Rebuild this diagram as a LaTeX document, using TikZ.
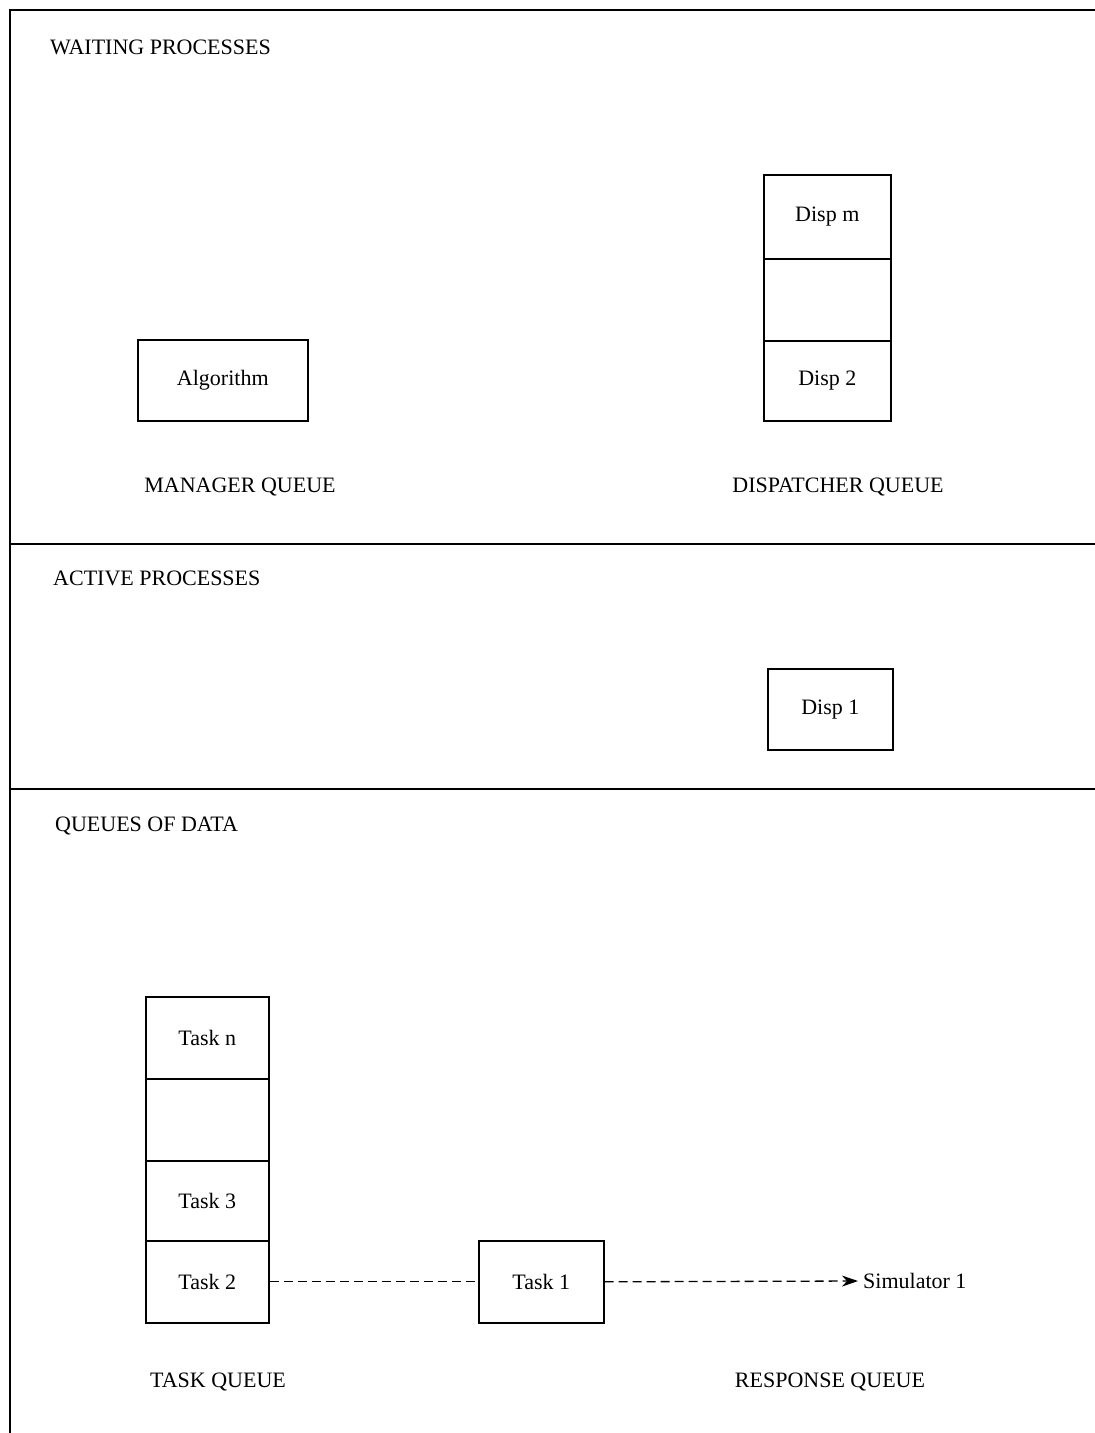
\documentclass[tikz,border=0pt]{standalone}
\usepackage{fontspec}
\setmainfont{Liberation Serif}
\usetikzlibrary{arrows.meta}
\begin{document}
\begin{tikzpicture}[x=1pt,y=-1pt,
  frame/.style={line width=1.6pt},
  cell/.style={draw,line width=1.6pt,inner sep=0pt,anchor=north west,font=\fontsize{22}{26}\selectfont},
  lbl/.style={font=\fontsize{22}{26}\selectfont,inner sep=0pt},
  flow/.style={line width=1.3pt,dash pattern=on 9pt off 5pt}]
\useasboundingbox (0,0) rectangle (1095,1433);

% outer frame and section dividers
\coordinate (tl) at (10,10);
\coordinate (tr) at (1095,10);
\coordinate (bl) at (10,1433);
\draw[frame] (tr) -- (tl) -- (bl);
\coordinate (d1l) at (10,544);
\coordinate (d1r) at (1095,544);
\coordinate (d2l) at (10,789);
\coordinate (d2r) at (1095,789);
\draw[frame] (d1l) -- (d1r);
\draw[frame] (d2l) -- (d2r);

% section titles
\node[lbl,anchor=west] (waiting) at (50,47) {WAITING PROCESSES};
\node[lbl,anchor=west] (active) at (53,578) {ACTIVE PROCESSES};
\node[lbl,anchor=west] (data) at (55,826) {QUEUES OF DATA};

% manager queue
\node[cell,minimum width=170pt,minimum height=81pt] (alg) at (137,339) {Algorithm};
\node[lbl] (mq) at (240,487) {MANAGER QUEUE};

% dispatcher queue
\node[cell,minimum width=127pt,minimum height=84pt] (dm) at (763,174) {Disp m};
\node[cell,minimum width=127pt,minimum height=82pt] (dgap) at (763,258) {};
\node[cell,minimum width=127pt,minimum height=80pt] (d2) at (763,340) {Disp 2};
\node[lbl] (dq) at (838,487) {DISPATCHER QUEUE};

% active dispatcher
\node[cell,minimum width=125pt,minimum height=81pt] (d1) at (767,668) {Disp 1};

% task queue
\node[cell,minimum width=123pt,minimum height=82pt] (tn) at (145,996) {Task n};
\node[cell,minimum width=123pt,minimum height=82pt] (tgap) at (145,1078) {};
\node[cell,minimum width=123pt,minimum height=80pt] (t3) at (145,1160) {Task 3};
\node[cell,minimum width=123pt,minimum height=82pt] (t2) at (145,1240) {Task 2};
\node[lbl] (tq) at (218,1382) {TASK QUEUE};

% task in transit and its destination
\node[cell,minimum width=125pt,minimum height=82pt] (t1) at (478,1240) {Task 1};
\node[lbl,anchor=west] (sim) at (863,1281) {Simulator 1};
\node[lbl] (rq) at (830,1382) {RESPONSE QUEUE};

\draw[flow] (t2.east) -- (t1.west);
\draw[flow,-{Stealth[length=16pt,width=11pt,inset=5pt]}] (t1.east) -- ([xshift=-5pt]sim.west);
\end{tikzpicture}
\end{document}
